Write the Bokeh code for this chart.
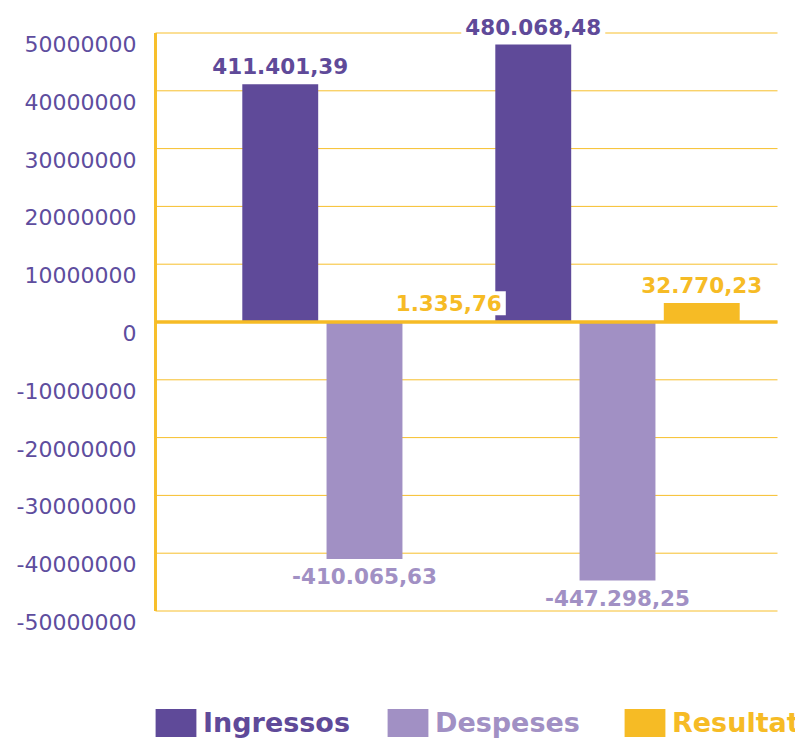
from bokeh.plotting import figure
from bokeh.models import Range1d, Label, Legend, LegendItem
from bokeh.embed import file_html
from bokeh.resources import INLINE

# ---- data (values in axis units; labels show value / 100) ----
groups = [1, 2]
series = ["Ingressos", "Despeses", "Resultat"]
ingressos = [41140139, 48006848]
despeses = [-41006563, -44729825]
resultat = [133576, 3277023]
y_ticks = [-50000000, -40000000, -30000000, -20000000, -10000000, 0,
           10000000, 20000000, 30000000, 40000000, 50000000]
y_tick_labels = ["-50000000", "-40000000", "-30000000", "-20000000", "-10000000", "0",
                 "10000000", "20000000", "30000000", "40000000", "50000000"]

# ---- style ----
C_ING = "#5F4A99"
C_DES = "#A190C4"
C_RES = "#F6BB25"
C_LINE = "#F7BF2C"
C_TICK = "#5E4D9E"
FONT = "DejaVu Sans"

W, H = 795, 738
UNIT = 253.0                    # px per group
X0 = 1 - 364 / UNIT             # data x at canvas left
X_AXIS = X0 + 155 / UNIT        # plot area left edge
X_RIGHT = X0 + 777 / UNIT       # plot area right edge
PX10M = 57.8                    # px per 10,000,000
Y_TOP = 50000000 + 32.5 / PX10M * 10000000
Y_BOT = -50000000 - (H - 610.5) / PX10M * 10000000


def fmt(v):
    s = f"{abs(v) / 100:,.2f}".replace(",", "X").replace(".", ",").replace("X", ".")
    return ("-" if v < 0 else "") + s


p = figure(width=W, height=H, output_backend="svg", toolbar_location=None,
           x_range=Range1d(X0, X0 + W / UNIT), y_range=Range1d(Y_BOT, Y_TOP),
           min_border=0, min_border_left=0, min_border_right=0,
           min_border_top=0, min_border_bottom=0)
p.outline_line_color = None
p.xaxis.visible = False
p.yaxis.visible = False
p.xgrid.visible = False
p.ygrid.visible = False

# grid lines and axis line, positioned from the tick values
n = len(y_ticks)
p.segment(x0=[X_AXIS] * n, y0=y_ticks, x1=[X_RIGHT] * n, y1=y_ticks,
          line_color=C_LINE, line_width=1)
p.segment(x0=[X_AXIS], y0=[y_ticks[0]], x1=[X_AXIS], y1=[y_ticks[-1]],
          line_color=C_LINE, line_width=3)

offsets = [-0.333, 0.0, 0.333]
width = 0.3
data = [ingressos, despeses, resultat]
colors = [C_ING, C_DES, C_RES]

renderers = []
for vals, off, col in zip(data, offsets, colors):
    r = p.vbar(x=[g + off for g in groups], top=vals, bottom=0, width=width,
               fill_color=col, line_color=None)
    renderers.append(r)

# zero line on top of the bars
p.segment(x0=[X_AXIS], y0=[0], x1=[X_RIGHT], y1=[0], line_color=C_RES, line_width=3.5)

# tick labels
for t, lab in zip(y_ticks, y_tick_labels):
    p.add_layout(Label(x=X_AXIS, y=t, text=lab, x_offset=-19, y_offset=-11,
                       text_align="right", text_baseline="middle",
                       text_font=FONT, text_font_size="22px", text_color=C_TICK))

# value labels
for vals, off, col in zip(data, offsets, colors):
    for g, v in zip(groups, vals):
        p.add_layout(Label(x=g + off, y=v, text=fmt(v), text_align="center",
                           text_baseline="bottom" if v >= 0 else "top",
                           y_offset=6 if v >= 0 else -5,
                           text_font=FONT, text_font_style="bold", text_font_size="21.5px",
                           text_color=col, background_fill_color="white",
                           padding=4))

legend_x = [150, 382, 619]
for name, r, col, lx in zip(series, renderers, colors, legend_x):
    lg = Legend(items=[LegendItem(label=name, renderers=[r])], location=(lx, -2),
                orientation="horizontal", glyph_width=51, glyph_height=35,
                label_standoff=2, padding=0, margin=0, spacing=0,
                border_line_color=None, background_fill_alpha=0,
                label_text_font=FONT, label_text_font_style="bold",
                label_text_font_size="27px", label_text_color=col)
    p.add_layout(lg)

open("out.html", "w").write(file_html(p, INLINE))
